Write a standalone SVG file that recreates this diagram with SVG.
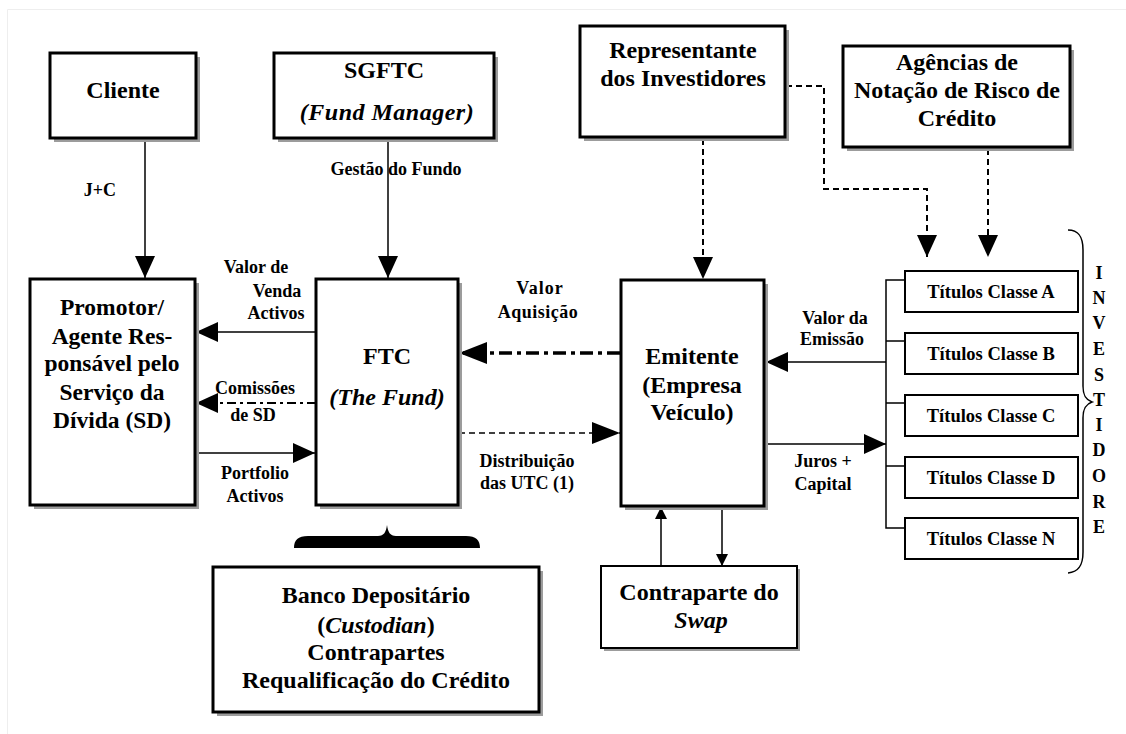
<svg xmlns="http://www.w3.org/2000/svg" width="1126" height="734" viewBox="0 0 1126 734">
<defs>
<style>
text{font-family:'Liberation Serif',serif;font-weight:bold;fill:#000;text-anchor:middle}
.t24{font-size:24px}
.t23{font-size:23.5px}
.t18{font-size:18px}
.tt{font-size:18.5px}
.it{font-style:italic}
.box{fill:#fff;stroke:#000;stroke-width:3}
.tbox{fill:#fff;stroke:#000;stroke-width:2}
.sh{fill:#9c9c9c}
.ln{fill:none;stroke:#000;stroke-width:1.5}
.dash{fill:none;stroke:#000;stroke-width:2;stroke-dasharray:6 4}
.dashthin{fill:none;stroke:#000;stroke-width:1.5;stroke-dasharray:6 4}
.dd{fill:none;stroke:#000;stroke-width:2;stroke-dasharray:9 4 3 4}
.ddthick{fill:none;stroke:#000;stroke-width:3.5;stroke-dasharray:13 5 4 5}
</style>
<marker id="ah" viewBox="0 0 22 20" refX="22" refY="10" markerWidth="22" markerHeight="20" markerUnits="userSpaceOnUse" orient="auto"><path d="M0,0 L22,10 L0,20 Z" fill="#000"/></marker>
<marker id="ahl" viewBox="0 0 28 22" refX="28" refY="11" markerWidth="28" markerHeight="22" markerUnits="userSpaceOnUse" orient="auto"><path d="M0,0 L28,11 L0,22 Z" fill="#000"/></marker>
<marker id="ahs" viewBox="0 0 12 12" refX="12" refY="6" markerWidth="12" markerHeight="12" markerUnits="userSpaceOnUse" orient="auto"><path d="M0,0 L12,6 L0,12 Z" fill="#000"/></marker>
</defs>
<rect width="1126" height="734" fill="#fff"/>
<path d="M7.5,734 V9.5 H1126" fill="none" stroke="#eeeeee" stroke-width="1"/>

<g id="connectors">
<line class="ln" x1="145" y1="139" x2="145" y2="278" marker-end="url(#ah)"/>
<line class="ln" x1="388" y1="139" x2="388" y2="278" marker-end="url(#ah)"/>
<line class="ln" x1="316" y1="332" x2="196" y2="332" marker-end="url(#ah)"/>
<line class="dd" x1="316" y1="403" x2="196" y2="403" marker-end="url(#ah)"/>
<line class="ln" x1="196" y1="453" x2="315" y2="453" marker-end="url(#ah)"/>
<line class="ddthick" x1="620" y1="353" x2="459" y2="353" marker-end="url(#ahl)"/>
<line class="dashthin" x1="459" y1="433" x2="620" y2="433" marker-end="url(#ahl)"/>
<line class="dash" x1="703" y1="139" x2="703" y2="279" marker-end="url(#ah)"/>
<path class="dash" d="M786,86 H824 V189 H927 V257" marker-end="url(#ah)"/>
<line class="dash" x1="988" y1="149" x2="988" y2="257" marker-end="url(#ah)"/>
<path class="ln" d="M905,280 H886 V528 H905 M886,341 H905 M886,403 H905 M886,466 H905"/>
<line class="ln" x1="886" y1="362" x2="766" y2="362" marker-end="url(#ah)"/>
<line class="ln" x1="765" y1="444" x2="886" y2="444" marker-end="url(#ah)"/>
<line class="ln" x1="661" y1="566" x2="661" y2="507" marker-end="url(#ahs)"/>
<line class="ln" x1="722" y1="507" x2="722" y2="566" marker-end="url(#ahs)"/>
<path d="M294,548 C294,540 298,536 308,536 L378,536 C384,536 386,532 387,525 C388,532 390,536 396,536 L466,536 C476,536 480,540 480,548 Z" fill="#000"/>
<path class="ln" d="M1068,230 C1079,230 1083,237 1083,250 L1083,386 C1083,396 1086,400 1092,402 C1086,404 1083,408 1083,418 L1083,552 C1083,565 1079,572 1068,573"/>
</g>

<g id="labels">
<text class="t18" x="100" y="196">J+C</text>
<text class="t18" x="396" y="175">Gestão do Fundo</text>
<text class="t18" x="256" y="273">Valor de</text>
<text class="t18" x="277" y="297">Venda</text>
<text class="t18" x="276" y="319">Activos</text>
<text class="t18" x="255" y="394">Comissões</text>
<text class="t18" x="253" y="421">de SD</text>
<text class="t18" x="255" y="479">Portfolio</text>
<text class="t18" x="255" y="502">Activos</text>
<text class="t18" x="540" y="294" letter-spacing="1">Valor</text>
<text class="t18" x="538" y="318" letter-spacing="0.5">Aquisição</text>
<text class="t18" x="527" y="467">Distribuição</text>
<text class="t18" x="527" y="489">das UTC (1)</text>
<text class="t18" x="835" y="324">Valor da</text>
<text class="t18" x="832" y="345">Emissão</text>
<text class="t18" x="823" y="467">Juros +</text>
<text class="t18" x="823" y="490">Capital</text>
</g>

<g id="cliente">
<rect class="sh" x="54" y="57" width="146" height="85"/>
<rect class="box" x="50" y="53" width="146" height="85"/>
<text class="t24" x="123" y="98">Cliente</text>
</g>
<g id="sgftc">
<rect class="sh" x="278" y="57" width="220" height="85"/>
<rect class="box" x="274" y="53" width="220" height="85"/>
<text class="t24" x="384" y="78">SGFTC</text>
<text class="t24 it" x="387" y="120" letter-spacing="0.5">(Fund Manager)</text>
</g>
<g id="representante">
<rect class="sh" x="584" y="30" width="205" height="111"/>
<rect class="box" x="580" y="26" width="205" height="111"/>
<text class="t24" x="683" y="58">Representante</text>
<text class="t24" x="683" y="86">dos Investidores</text>
</g>
<g id="agencias">
<rect class="sh" x="847" y="50" width="227" height="101"/>
<rect class="box" x="843" y="46" width="227" height="101"/>
<text class="t24" x="957" y="70">Agências de</text>
<text class="t24" x="957" y="98">Notação de Risco de</text>
<text class="t24" x="957" y="126">Crédito</text>
</g>
<g id="promotor">
<rect class="sh" x="34" y="283" width="165" height="226"/>
<rect class="box" x="30" y="279" width="165" height="226"/>
<text class="t23" x="112" y="315">Promotor/</text>
<text class="t23" x="112" y="344">Agente Res-</text>
<text class="t23" x="112" y="371">ponsável pelo</text>
<text class="t23" x="112" y="400">Serviço da</text>
<text class="t23" x="112" y="428">Dívida (SD)</text>
</g>
<g id="ftc">
<rect class="sh" x="320" y="283" width="142" height="226"/>
<rect class="box" x="316" y="279" width="142" height="226"/>
<text class="t24" x="387" y="364">FTC</text>
<text class="t24 it" x="387" y="405">(The Fund)</text>
</g>
<g id="emitente">
<rect class="sh" x="625" y="284" width="143" height="226"/>
<rect class="box" x="621" y="280" width="143" height="226"/>
<text class="t24" x="692" y="364">Emitente</text>
<text class="t24" x="692" y="393">(Empresa</text>
<text class="t24" x="692" y="420">Veículo)</text>
</g>
<g id="titulos-a">
<rect class="tbox" x="905" y="271" width="173" height="41"/>
<text class="tt" x="991" y="298">Títulos Classe A</text>
</g>
<g id="titulos-b">
<rect class="tbox" x="905" y="333" width="173" height="41"/>
<text class="tt" x="991" y="360">Títulos Classe B</text>
</g>
<g id="titulos-c">
<rect class="tbox" x="905" y="395" width="173" height="41"/>
<text class="tt" x="991" y="422">Títulos Classe C</text>
</g>
<g id="titulos-d">
<rect class="tbox" x="905" y="457" width="173" height="41"/>
<text class="tt" x="991" y="484">Títulos Classe D</text>
</g>
<g id="titulos-n">
<rect class="tbox" x="905" y="518" width="173" height="41"/>
<text class="tt" x="991" y="545">Títulos Classe N</text>
</g>
<g id="investidores">
<text class="t18" x="1099" y="279">I</text>
<text class="t18" x="1099" y="304">N</text>
<text class="t18" x="1099" y="329">V</text>
<text class="t18" x="1099" y="355">E</text>
<text class="t18" x="1099" y="381">S</text>
<text class="t18" x="1099" y="406">T</text>
<text class="t18" x="1099" y="431">I</text>
<text class="t18" x="1099" y="456">D</text>
<text class="t18" x="1099" y="482">O</text>
<text class="t18" x="1099" y="508">R</text>
<text class="t18" x="1099" y="533">E</text>
</g>
<g id="contraparte">
<rect class="sh" x="604" y="569" width="196" height="82"/>
<rect class="tbox" x="601" y="566" width="196" height="82"/>
<text class="t24" x="699" y="600">Contraparte do</text>
<text class="t24 it" x="701" y="628">Swap</text>
</g>
<g id="banco">
<rect class="sh" x="217" y="571" width="326" height="145"/>
<rect class="box" x="213" y="567" width="326" height="145"/>
<text class="t24" x="376" y="603">Banco Depositário</text>
<text class="t24" x="376" y="633">(<tspan class="it">Custodian</tspan>)</text>
<text class="t24" x="376" y="660">Contrapartes</text>
<text class="t24" x="376" y="688">Requalificação do Crédito</text>
</g>
</svg>
